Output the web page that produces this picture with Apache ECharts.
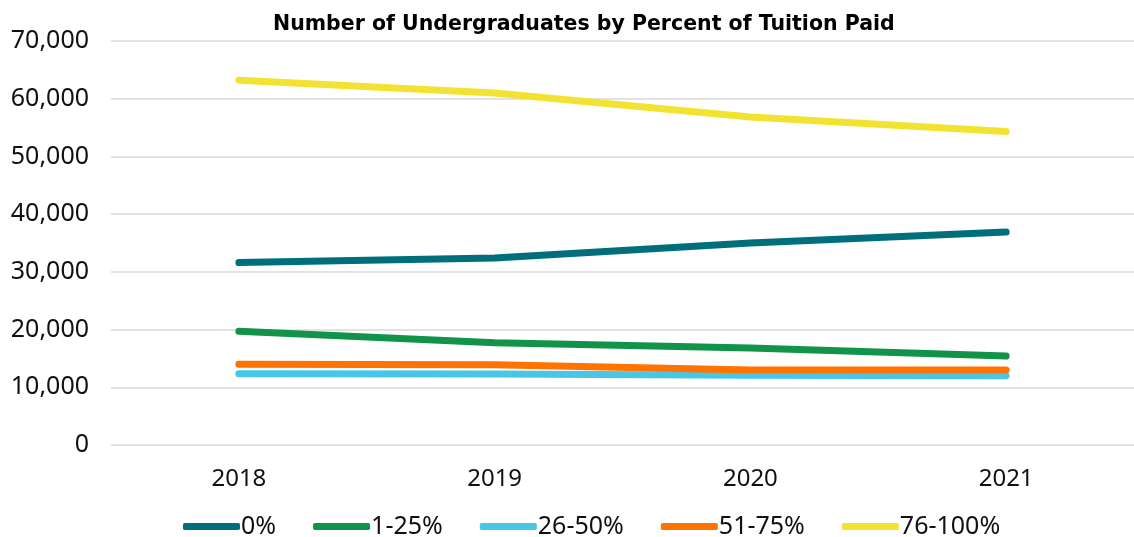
<!DOCTYPE html>
<html>
<head>
<meta charset="utf-8">
<script src="https://cdn.jsdelivr.net/npm/echarts@6/dist/echarts.min.js"></script>
<style>
  html, body { margin: 0; padding: 0; background: #fff; }
  #main { width: 1134px; height: 537px; }
</style>
</head>
<body>
<div id="main"></div>
<script>
// data
var years = ['2018', '2019', '2020', '2021'];
var pct0 = [31600, 32400, 35000, 36900];
var pct1to25 = [19700, 17700, 16800, 15400];
var pct26to50 = [12350, 12300, 12100, 12000];
var pct51to75 = [14000, 13900, 13000, 13000];
var pct76to100 = [63200, 61000, 56850, 54300];

var seriesNames = ['0%', '1-25%', '26-50%', '51-75%', '76-100%'];
var seriesData = [pct0, pct1to25, pct26to50, pct51to75, pct76to100];
var colors = ['#006f7b', '#12934a', '#48c6e6', '#ff7300', '#f2e333'];

var myChart = echarts.init(document.getElementById('main'));

var font = 'Noto Sans';

var option = {
    animation: false,
    color: colors,
    title: {
        text: 'Number of Undergraduates by Percent of Tuition Paid',
        left: 268,
        top: 9,
        textStyle: { fontFamily: 'DejaVu Sans', fontWeight: 'bold', fontSize: 20.5, color: '#000' }
    },
    legend: {
        data: seriesNames,
        bottom: -7,
        left: 178,
        icon: 'roundRect',
        itemWidth: 57,
        itemHeight: 7,
        itemGap: 37,
        textStyle: { fontFamily: font, fontSize: 25, color: '#111', padding: [0, 0, 0, -4] }
    },
    grid: {
        left: 111,
        width: 1030,
        top: 41,
        bottom: 92
    },
    xAxis: {
        type: 'category',
        data: years,
        boundaryGap: true,
        axisLine: { show: false },
        axisTick: { show: false },
        axisLabel: { fontFamily: font, fontSize: 24, color: '#111', margin: 22 }
    },
    yAxis: {
        type: 'value',
        min: 0,
        max: 70000,
        interval: 10000,
        axisLine: { show: false },
        axisTick: { show: false },
        splitLine: { lineStyle: { color: '#d9d9d9', width: 1.5 } },
        axisLabel: {
            fontFamily: font, fontSize: 25, color: '#111', margin: 22,
            formatter: function (v) { return v.toLocaleString('en-US'); }
        }
    },
    series: seriesNames.map(function (name, i) {
        return {
            name: name,
            type: 'line',
            data: seriesData[i],
            symbol: 'none',
            lineStyle: { width: 7, cap: 'round', join: 'round' }
        };
    })
};

myChart.setOption(option);
</script>
</body>
</html>
